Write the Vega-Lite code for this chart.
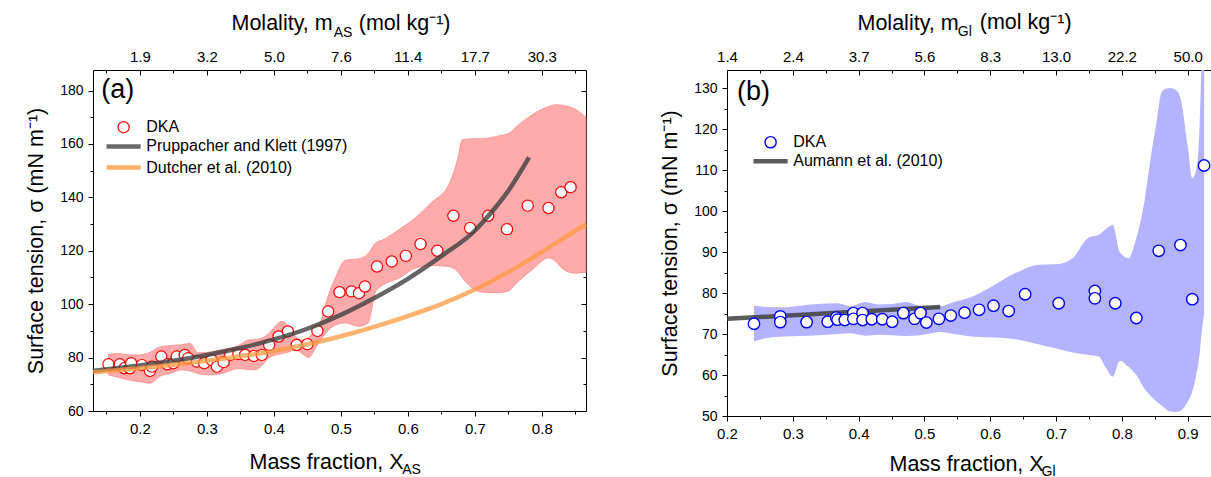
{
  "$schema": "https://vega.github.io/schema/vega-lite/v6.json",
  "padding": {"left": 25, "top": 12, "right": 0, "bottom": 0},
  "spacing": 64,
  "config": {
    "font": "Liberation Sans",
    "view": {"stroke": null},
    "axis": {
      "grid": false,
      "domainColor": "#000000",
      "tickColor": "#000000",
      "labelColor": "#000000",
      "titleColor": "#000000",
      "labelFont": "Liberation Sans",
      "titleFont": "Liberation Sans",
      "titleFontWeight": "normal",
      "labelFontSize": 15,
      "titleFontSize": 21.5,
      "labelOverlap": false,
      "labelFlush": false,
      "domainWidth": 1,
      "tickWidth": 1
    },
    "legend": {
      "orient": "none",
      "title": null,
      "padding": 0,
      "labelFont": "Liberation Sans",
      "labelFontSize": 16,
      "labelColor": "#000000",
      "labelLimit": 400,
      "symbolSize": 125,
      "symbolOffset": 11,
      "labelOffset": 14.7
    },
    "text": {"color": "#000000", "font": "Liberation Sans"}
  },
  "resolve": {
    "scale": {"color": "independent", "stroke": "independent"},
    "legend": {"color": "independent", "stroke": "independent"}
  },
  "datasets": {
    "a_pts": [
      {"x": 0.153, "y": 77.5, "series": "DKA"}, {"x": 0.170, "y": 77.5, "series": "DKA"},
      {"x": 0.177, "y": 76.0, "series": "DKA"}, {"x": 0.185, "y": 76.0, "series": "DKA"},
      {"x": 0.187, "y": 77.9, "series": "DKA"}, {"x": 0.203, "y": 77.2, "series": "DKA"},
      {"x": 0.215, "y": 75.0, "series": "DKA"}, {"x": 0.218, "y": 76.6, "series": "DKA"},
      {"x": 0.232, "y": 80.4, "series": "DKA"}, {"x": 0.241, "y": 77.5, "series": "DKA"},
      {"x": 0.250, "y": 77.9, "series": "DKA"}, {"x": 0.255, "y": 80.4, "series": "DKA"},
      {"x": 0.267, "y": 81.0, "series": "DKA"}, {"x": 0.272, "y": 79.8, "series": "DKA"},
      {"x": 0.285, "y": 78.5, "series": "DKA"}, {"x": 0.296, "y": 77.9, "series": "DKA"},
      {"x": 0.307, "y": 79.1, "series": "DKA"}, {"x": 0.315, "y": 76.6, "series": "DKA"},
      {"x": 0.325, "y": 78.3, "series": "DKA"}, {"x": 0.335, "y": 81.0, "series": "DKA"},
      {"x": 0.347, "y": 81.3, "series": "DKA"}, {"x": 0.357, "y": 81.0, "series": "DKA"},
      {"x": 0.370, "y": 80.6, "series": "DKA"}, {"x": 0.382, "y": 81.0, "series": "DKA"},
      {"x": 0.393, "y": 84.7, "series": "DKA"}, {"x": 0.407, "y": 87.9, "series": "DKA"},
      {"x": 0.421, "y": 89.8, "series": "DKA"}, {"x": 0.434, "y": 84.7, "series": "DKA"},
      {"x": 0.450, "y": 85.0, "series": "DKA"}, {"x": 0.465, "y": 90.0, "series": "DKA"},
      {"x": 0.481, "y": 97.3, "series": "DKA"}, {"x": 0.498, "y": 104.5, "series": "DKA"},
      {"x": 0.516, "y": 104.8, "series": "DKA"}, {"x": 0.527, "y": 104.1, "series": "DKA"},
      {"x": 0.536, "y": 106.6, "series": "DKA"}, {"x": 0.554, "y": 114.1, "series": "DKA"},
      {"x": 0.576, "y": 116.0, "series": "DKA"}, {"x": 0.597, "y": 118.1, "series": "DKA"},
      {"x": 0.619, "y": 122.5, "series": "DKA"}, {"x": 0.644, "y": 120.0, "series": "DKA"},
      {"x": 0.668, "y": 133.1, "series": "DKA"}, {"x": 0.693, "y": 128.5, "series": "DKA"},
      {"x": 0.720, "y": 133.1, "series": "DKA"}, {"x": 0.748, "y": 128.1, "series": "DKA"},
      {"x": 0.779, "y": 136.9, "series": "DKA"}, {"x": 0.810, "y": 136.0, "series": "DKA"},
      {"x": 0.829, "y": 141.9, "series": "DKA"}, {"x": 0.843, "y": 143.8, "series": "DKA"}
    ],
    "a_band": [
      {"x": 0.153, "lo": 73.5, "hi": 81.3}, {"x": 0.170, "lo": 72.5, "hi": 81.5},
      {"x": 0.185, "lo": 71.5, "hi": 81.0}, {"x": 0.200, "lo": 71.0, "hi": 81.0},
      {"x": 0.215, "lo": 70.4, "hi": 82.0}, {"x": 0.230, "lo": 73.0, "hi": 84.0},
      {"x": 0.245, "lo": 74.0, "hi": 84.5}, {"x": 0.262, "lo": 75.4, "hi": 84.8},
      {"x": 0.275, "lo": 75.0, "hi": 85.3}, {"x": 0.287, "lo": 74.0, "hi": 81.8},
      {"x": 0.302, "lo": 73.5, "hi": 82.0}, {"x": 0.322, "lo": 74.0, "hi": 83.0},
      {"x": 0.347, "lo": 75.9, "hi": 84.5}, {"x": 0.362, "lo": 75.5, "hi": 86.6},
      {"x": 0.372, "lo": 75.4, "hi": 86.8}, {"x": 0.382, "lo": 77.0, "hi": 87.2},
      {"x": 0.392, "lo": 79.8, "hi": 89.0}, {"x": 0.412, "lo": 81.5, "hi": 93.5},
      {"x": 0.421, "lo": 82.0, "hi": 92.0}, {"x": 0.432, "lo": 82.9, "hi": 88.0},
      {"x": 0.445, "lo": 81.0, "hi": 86.5}, {"x": 0.452, "lo": 80.0, "hi": 87.5},
      {"x": 0.462, "lo": 83.5, "hi": 91.0}, {"x": 0.472, "lo": 87.3, "hi": 95.0},
      {"x": 0.477, "lo": 89.0, "hi": 99.7}, {"x": 0.492, "lo": 92.2, "hi": 110.0},
      {"x": 0.507, "lo": 93.0, "hi": 116.5}, {"x": 0.527, "lo": 91.7, "hi": 117.0},
      {"x": 0.541, "lo": 93.0, "hi": 119.0}, {"x": 0.552, "lo": 104.8, "hi": 123.0},
      {"x": 0.562, "lo": 107.0, "hi": 124.0}, {"x": 0.587, "lo": 109.8, "hi": 128.0},
      {"x": 0.611, "lo": 113.5, "hi": 132.3}, {"x": 0.635, "lo": 114.5, "hi": 138.0},
      {"x": 0.661, "lo": 114.1, "hi": 144.7}, {"x": 0.675, "lo": 112.0, "hi": 155.0},
      {"x": 0.681, "lo": 110.0, "hi": 161.6}, {"x": 0.700, "lo": 105.4, "hi": 162.0},
      {"x": 0.711, "lo": 104.5, "hi": 162.0}, {"x": 0.735, "lo": 104.3, "hi": 163.0},
      {"x": 0.751, "lo": 105.0, "hi": 164.0}, {"x": 0.760, "lo": 107.3, "hi": 166.0},
      {"x": 0.786, "lo": 113.0, "hi": 171.0}, {"x": 0.810, "lo": 117.3, "hi": 174.0},
      {"x": 0.821, "lo": 116.0, "hi": 174.7}, {"x": 0.830, "lo": 113.5, "hi": 174.5},
      {"x": 0.850, "lo": 111.6, "hi": 173.0}, {"x": 0.866, "lo": 112.0, "hi": 170.0}
    ],
    "a_pk": [
      {"x": 0.13, "y": 75.0}, {"x": 0.20, "y": 77.0}, {"x": 0.25, "y": 78.8},
      {"x": 0.30, "y": 81.0}, {"x": 0.35, "y": 83.6}, {"x": 0.40, "y": 86.8},
      {"x": 0.45, "y": 90.8}, {"x": 0.50, "y": 96.0}, {"x": 0.55, "y": 102.3},
      {"x": 0.60, "y": 109.5}, {"x": 0.65, "y": 118.0}, {"x": 0.70, "y": 127.5},
      {"x": 0.72, "y": 133.0}, {"x": 0.75, "y": 142.5}, {"x": 0.781, "y": 155.0}
    ],
    "a_du": [
      {"x": 0.13, "y": 74.5}, {"x": 0.20, "y": 76.0}, {"x": 0.30, "y": 78.8},
      {"x": 0.40, "y": 82.5}, {"x": 0.45, "y": 85.0}, {"x": 0.50, "y": 88.0},
      {"x": 0.55, "y": 91.5}, {"x": 0.60, "y": 95.5}, {"x": 0.65, "y": 100.0},
      {"x": 0.70, "y": 105.5}, {"x": 0.75, "y": 112.0}, {"x": 0.80, "y": 119.5},
      {"x": 0.85, "y": 127.5}, {"x": 0.866, "y": 130.0}
    ],
    "b_pts": [
      {"x": 0.241, "y": 72.5, "series": "DKA"}, {"x": 0.281, "y": 74.3, "series": "DKA"},
      {"x": 0.281, "y": 72.9, "series": "DKA"}, {"x": 0.321, "y": 72.9, "series": "DKA"},
      {"x": 0.353, "y": 73.0, "series": "DKA"}, {"x": 0.366, "y": 74.0, "series": "DKA"},
      {"x": 0.368, "y": 73.5, "series": "DKA"}, {"x": 0.379, "y": 73.4, "series": "DKA"},
      {"x": 0.392, "y": 75.1, "series": "DKA"}, {"x": 0.392, "y": 73.7, "series": "DKA"},
      {"x": 0.406, "y": 75.1, "series": "DKA"}, {"x": 0.406, "y": 73.4, "series": "DKA"},
      {"x": 0.420, "y": 73.6, "series": "DKA"}, {"x": 0.436, "y": 73.6, "series": "DKA"},
      {"x": 0.451, "y": 73.0, "series": "DKA"}, {"x": 0.468, "y": 75.1, "series": "DKA"},
      {"x": 0.485, "y": 73.7, "series": "DKA"}, {"x": 0.494, "y": 75.1, "series": "DKA"},
      {"x": 0.503, "y": 72.8, "series": "DKA"}, {"x": 0.522, "y": 73.7, "series": "DKA"},
      {"x": 0.540, "y": 74.5, "series": "DKA"}, {"x": 0.561, "y": 75.2, "series": "DKA"},
      {"x": 0.583, "y": 75.9, "series": "DKA"}, {"x": 0.605, "y": 76.9, "series": "DKA"},
      {"x": 0.628, "y": 75.6, "series": "DKA"}, {"x": 0.653, "y": 79.7, "series": "DKA"},
      {"x": 0.704, "y": 77.5, "series": "DKA"}, {"x": 0.759, "y": 80.5, "series": "DKA"},
      {"x": 0.759, "y": 78.7, "series": "DKA"}, {"x": 0.790, "y": 77.5, "series": "DKA"},
      {"x": 0.822, "y": 73.9, "series": "DKA"}, {"x": 0.856, "y": 90.3, "series": "DKA"},
      {"x": 0.889, "y": 91.7, "series": "DKA"}, {"x": 0.907, "y": 78.5, "series": "DKA"},
      {"x": 0.925, "y": 111.1, "series": "DKA"}
    ],
    "b_band": [
      {"x": 0.241, "lo": 68.2, "hi": 76.9}, {"x": 0.260, "lo": 69.0, "hi": 76.6},
      {"x": 0.286, "lo": 69.4, "hi": 76.5}, {"x": 0.310, "lo": 69.5, "hi": 76.9},
      {"x": 0.337, "lo": 69.7, "hi": 77.3}, {"x": 0.368, "lo": 70.0, "hi": 77.5},
      {"x": 0.388, "lo": 70.2, "hi": 76.8}, {"x": 0.410, "lo": 69.6, "hi": 77.8},
      {"x": 0.430, "lo": 69.8, "hi": 77.2}, {"x": 0.451, "lo": 69.7, "hi": 77.3},
      {"x": 0.472, "lo": 69.5, "hi": 77.8}, {"x": 0.493, "lo": 69.7, "hi": 76.9},
      {"x": 0.524, "lo": 70.5, "hi": 76.8}, {"x": 0.545, "lo": 70.0, "hi": 77.8},
      {"x": 0.571, "lo": 69.4, "hi": 79.0}, {"x": 0.597, "lo": 69.2, "hi": 81.1},
      {"x": 0.622, "lo": 69.0, "hi": 83.5}, {"x": 0.647, "lo": 68.5, "hi": 85.5},
      {"x": 0.673, "lo": 67.5, "hi": 86.9}, {"x": 0.699, "lo": 66.5, "hi": 87.0},
      {"x": 0.725, "lo": 65.5, "hi": 88.5}, {"x": 0.749, "lo": 64.9, "hi": 93.5},
      {"x": 0.765, "lo": 64.5, "hi": 94.2}, {"x": 0.775, "lo": 62.0, "hi": 95.5},
      {"x": 0.786, "lo": 59.6, "hi": 96.6}, {"x": 0.797, "lo": 63.5, "hi": 90.0},
      {"x": 0.810, "lo": 62.0, "hi": 88.5}, {"x": 0.822, "lo": 60.0, "hi": 93.4},
      {"x": 0.835, "lo": 56.5, "hi": 103.0}, {"x": 0.843, "lo": 55.0, "hi": 112.1},
      {"x": 0.853, "lo": 53.5, "hi": 122.0}, {"x": 0.861, "lo": 52.5, "hi": 129.2},
      {"x": 0.873, "lo": 51.1, "hi": 130.0}, {"x": 0.882, "lo": 51.0, "hi": 129.5},
      {"x": 0.889, "lo": 51.3, "hi": 127.6}, {"x": 0.900, "lo": 53.5, "hi": 116.0},
      {"x": 0.907, "lo": 56.0, "hi": 108.0}, {"x": 0.913, "lo": 60.0, "hi": 110.0},
      {"x": 0.918, "lo": 65.0, "hi": 120.0}, {"x": 0.921, "lo": 70.0, "hi": 135.0},
      {"x": 0.925, "lo": 75.0, "hi": 145.0}
    ],
    "b_au": [
      {"x": 0.20, "y": 73.7, "series": "Aumann et al. (2010)"},
      {"x": 0.524, "y": 76.6, "series": "Aumann et al. (2010)"}
    ]
  },
  "hconcat": [
    {
      "width": 493,
      "height": 341,
      "layer": [
        {
          "data": {"name": "a_band"},
          "mark": {"type": "area", "interpolate": "monotone", "fill": "#ffabab", "stroke": "#ff8a8a", "strokeWidth": 0.8},
          "encoding": {
            "x": {
              "field": "x", "type": "quantitative",
              "scale": {"domain": [0.13, 0.866], "nice": false, "zero": false},
              "axis": {
                "orient": "bottom",
                "values": [0.15, 0.2, 0.25, 0.3, 0.35, 0.4, 0.45, 0.5, 0.55, 0.6, 0.65, 0.7, 0.75, 0.8, 0.85],
                "labelExpr": "abs(datum.value*10 - round(datum.value*10)) < 0.01 ? format(datum.value, '.1f') : ''",
                "tickSize": {"condition": {"test": "abs(datum.value*10 - round(datum.value*10)) > 0.01", "value": 3}, "value": 5},
                "labelPadding": 5.5,
                "title": "Mass fraction, X",
                "titleAlign": "left",
                "titleBaseline": "alphabetic",
                "titleX": 156,
                "titleY": 57
              }
            },
            "y": {
              "field": "lo", "type": "quantitative",
              "scale": {"domain": [60, 187.7], "nice": false, "zero": false},
              "axis": {
                "orient": "left",
                "values": [60, 70, 80, 90, 100, 110, 120, 130, 140, 150, 160, 170, 180],
                "labelExpr": "datum.value % 20 == 0 ? datum.label : ''",
                "tickSize": {"condition": {"test": "datum.value % 20 != 0", "value": 3}, "value": 5},
                "labelPadding": 5,
                "labelFontSize": 14,
                "title": "Surface tension, σ (mN m⁻¹)",
                "titlePadding": 12
              }
            },
            "y2": {"field": "hi"}
          }
        },
        {
          "data": {"values": [{}]},
          "mark": {"type": "text", "text": "(a)", "fontSize": 27, "align": "left", "baseline": "alphabetic"},
          "encoding": {
            "x": {"datum": 0.1424, "type": "quantitative", "scale": {"domain": [0.13, 0.866], "nice": false, "zero": false}, "axis": null},
            "y": {"datum": 177.2, "type": "quantitative", "scale": {"domain": [60, 187.7], "nice": false, "zero": false}, "axis": null}
          }
        },
        {
          "data": {"values": [{}]},
          "mark": {"type": "text", "text": "AS", "fontSize": 14, "align": "left", "baseline": "alphabetic"},
          "encoding": {
            "x": {"datum": 0.5915, "type": "quantitative", "scale": {"domain": [0.13, 0.866], "nice": false, "zero": false}, "axis": null},
            "y": {"datum": 36.3, "type": "quantitative", "scale": {"domain": [60, 187.7], "nice": false, "zero": false}, "axis": null}
          }
        },
        {
          "data": {"values": [{}]},
          "mark": {"type": "text", "text": "AS", "fontSize": 14, "align": "left", "baseline": "alphabetic"},
          "encoding": {
            "x": {"datum": 0.4894, "type": "quantitative", "scale": {"domain": [0.13, 0.866], "nice": false, "zero": false}, "axis": null},
            "y": {"datum": 200.2, "type": "quantitative", "scale": {"domain": [60, 187.7], "nice": false, "zero": false}, "axis": null}
          }
        },
        {
          "data": {"values": [{}]},
          "mark": {"type": "text", "text": "(mol kg⁻¹)", "fontSize": 21.5, "align": "left", "baseline": "alphabetic"},
          "encoding": {
            "x": {"datum": 0.5267, "type": "quantitative", "scale": {"domain": [0.13, 0.866], "nice": false, "zero": false}, "axis": null},
            "y": {"datum": 202.75, "type": "quantitative", "scale": {"domain": [60, 187.7], "nice": false, "zero": false}, "axis": null}
          }
        },
        {
          "data": {"name": "a_pts"},
          "mark": {"type": "point", "shape": "circle", "filled": false, "fill": "#ffffff", "size": 125, "strokeWidth": 1.2, "opacity": 1},
          "encoding": {
            "x": {
              "field": "x", "type": "quantitative",
              "scale": {"domain": [0.13, 0.866], "nice": false, "zero": false},
              "axis": {
                "orient": "top",
                "values": [0.15, 0.2, 0.25, 0.3, 0.35, 0.4, 0.45, 0.5, 0.55, 0.6, 0.65, 0.7, 0.75, 0.8, 0.85],
                "labelExpr": "abs(datum.value*10 - round(datum.value*10)) < 0.01 ? ['1.9','3.2','5.0','7.6','11.4','17.7','30.3'][round(datum.value*10)-2] : ''",
                "tickSize": {"condition": {"test": "abs(datum.value*10 - round(datum.value*10)) > 0.01", "value": -3}, "value": -5},
                "labelPadding": 11,
                "title": "Molality, m",
                "titleAlign": "left",
                "titleBaseline": "alphabetic",
                "titleX": 138,
                "titleY": -40.3
              }
            },
            "y": {
              "field": "y", "type": "quantitative",
              "scale": {"domain": [60, 187.7], "nice": false, "zero": false},
              "axis": {
                "orient": "right",
                "values": [60, 70, 80, 90, 100, 110, 120, 130, 140, 150, 160, 170, 180],
                "labels": false,
                "tickSize": {"condition": {"test": "datum.value % 20 != 0", "value": -3}, "value": -5},
                "title": null
              }
            },
            "color": {
              "field": "series", "type": "nominal",
              "scale": {"domain": ["DKA"], "range": ["#ff0000"]},
              "legend": {
                "legendX": 11.6, "legendY": 49.2,
                "symbolType": "circle", "symbolStrokeWidth": 1.2, "symbolFillColor": "#ffffff"
              }
            }
          }
        },
        {
          "data": {"name": "a_pk"},
          "transform": [{"calculate": "'Pruppacher and Klett (1997)'", "as": "series"}],
          "mark": {"type": "line", "interpolate": "monotone", "strokeWidth": 4.5, "opacity": 0.8, "strokeCap": "butt"},
          "encoding": {
            "x": {"field": "x", "type": "quantitative", "scale": {"domain": [0.13, 0.866], "nice": false, "zero": false}, "axis": null},
            "y": {"field": "y", "type": "quantitative", "scale": {"domain": [60, 187.7], "nice": false, "zero": false}, "axis": null},
            "stroke": {
              "field": "series", "type": "nominal",
              "scale": {"domain": ["Pruppacher and Klett (1997)", "Dutcher et al. (2010)"], "range": ["#404040", "#ff9a40"]},
              "legend": {
                "legendX": 11.6, "legendY": 68.4, "rowPadding": 3.2,
                "symbolType": "M-3.05,0H3.05", "symbolStrokeWidth": 4.5, "symbolOpacity": 0.78
              }
            }
          }
        },
        {
          "data": {"name": "a_du"},
          "transform": [{"calculate": "'Dutcher et al. (2010)'", "as": "series"}],
          "mark": {"type": "line", "interpolate": "monotone", "strokeWidth": 4.5, "opacity": 0.75, "strokeCap": "butt"},
          "encoding": {
            "x": {"field": "x", "type": "quantitative", "scale": {"domain": [0.13, 0.866], "nice": false, "zero": false}, "axis": null},
            "y": {"field": "y", "type": "quantitative", "scale": {"domain": [60, 187.7], "nice": false, "zero": false}, "axis": null},
            "stroke": {
              "field": "series", "type": "nominal",
              "scale": {"domain": ["Pruppacher and Klett (1997)", "Dutcher et al. (2010)"], "range": ["#404040", "#ff9a40"]},
              "legend": {
                "legendX": 11.6, "legendY": 68.4, "rowPadding": 3.2,
                "symbolType": "M-3.05,0H3.05", "symbolStrokeWidth": 4.5, "symbolOpacity": 0.78
              }
            }
          }
        }
      ],
      "resolve": {"axis": {"x": "independent", "y": "independent"}}
    },
    {
      "width": 487,
      "height": 346,
      "layer": [
        {
          "data": {"name": "b_band"},
          "mark": {"type": "area", "interpolate": "monotone", "fill": "#b3b3ff", "clip": true},
          "encoding": {
            "x": {
              "field": "x", "type": "quantitative",
              "scale": {"domain": [0.2, 0.94], "nice": false, "zero": false},
              "axis": {
                "orient": "bottom",
                "values": [0.2, 0.25, 0.3, 0.35, 0.4, 0.45, 0.5, 0.55, 0.6, 0.65, 0.7, 0.75, 0.8, 0.85, 0.9],
                "labelExpr": "abs(datum.value*10 - round(datum.value*10)) < 0.01 ? format(datum.value, '.1f') : ''",
                "tickSize": {"condition": {"test": "abs(datum.value*10 - round(datum.value*10)) > 0.01", "value": 3}, "value": 5},
                "labelPadding": 5.5,
                "title": "Mass fraction, X",
                "titleAlign": "left",
                "titleBaseline": "alphabetic",
                "titleX": 162,
                "titleY": 54
              }
            },
            "y": {
              "field": "lo", "type": "quantitative",
              "scale": {"domain": [50, 134.4], "nice": false, "zero": false},
              "axis": {
                "orient": "left",
                "values": [50, 55, 60, 65, 70, 75, 80, 85, 90, 95, 100, 105, 110, 115, 120, 125, 130],
                "labelExpr": "datum.value % 10 == 0 ? datum.label : ''",
                "tickSize": {"condition": {"test": "datum.value % 10 != 0", "value": 3}, "value": 5},
                "labelPadding": 5,
                "labelFontSize": 14,
                "title": "Surface tension, σ (mN m⁻¹)",
                "titlePadding": 12
              }
            },
            "y2": {"field": "hi"}
          }
        },
        {
          "data": {"name": "b_au"},
          "mark": {"type": "line", "strokeWidth": 4.5, "opacity": 0.85, "strokeCap": "butt"},
          "encoding": {
            "x": {"field": "x", "type": "quantitative", "scale": {"domain": [0.2, 0.94], "nice": false, "zero": false}, "axis": null},
            "y": {"field": "y", "type": "quantitative", "scale": {"domain": [50, 134.4], "nice": false, "zero": false}, "axis": null},
            "stroke": {
              "field": "series", "type": "nominal",
              "scale": {"domain": ["Aumann et al. (2010)"], "range": ["#404040"]},
              "legend": {
                "legendX": 24.6, "legendY": 83.2,
                "symbolType": "M-3.05,0H3.05", "symbolStrokeWidth": 4.5, "symbolOpacity": 0.85
              }
            }
          }
        },
        {
          "data": {"values": [{}]},
          "mark": {"type": "text", "text": "(b)", "fontSize": 27, "align": "left", "baseline": "alphabetic"},
          "encoding": {
            "x": {"datum": 0.2152, "type": "quantitative", "scale": {"domain": [0.2, 0.94], "nice": false, "zero": false}, "axis": null},
            "y": {"datum": 127.1, "type": "quantitative", "scale": {"domain": [50, 134.4], "nice": false, "zero": false}, "axis": null}
          }
        },
        {
          "data": {"values": [{}]},
          "mark": {"type": "text", "text": "Gl", "fontSize": 14, "align": "left", "baseline": "alphabetic"},
          "encoding": {
            "x": {"datum": 0.5507, "type": "quantitative", "scale": {"domain": [0.2, 0.94], "nice": false, "zero": false}, "axis": null},
            "y": {"datum": 142.6, "type": "quantitative", "scale": {"domain": [50, 134.4], "nice": false, "zero": false}, "axis": null}
          }
        },
        {
          "data": {"values": [{}]},
          "mark": {"type": "text", "text": "(mol kg⁻¹)", "fontSize": 21.5, "align": "left", "baseline": "alphabetic"},
          "encoding": {
            "x": {"datum": 0.5841, "type": "quantitative", "scale": {"domain": [0.2, 0.94], "nice": false, "zero": false}, "axis": null},
            "y": {"datum": 144.3, "type": "quantitative", "scale": {"domain": [50, 134.4], "nice": false, "zero": false}, "axis": null}
          }
        },
        {
          "data": {"values": [{}]},
          "mark": {"type": "text", "text": "Gl", "fontSize": 14, "align": "left", "baseline": "alphabetic"},
          "encoding": {
            "x": {"datum": 0.678, "type": "quantitative", "scale": {"domain": [0.2, 0.94], "nice": false, "zero": false}, "axis": null},
            "y": {"datum": 35.3, "type": "quantitative", "scale": {"domain": [50, 134.4], "nice": false, "zero": false}, "axis": null}
          }
        },
        {
          "data": {"name": "b_pts"},
          "mark": {"type": "point", "shape": "circle", "filled": false, "fill": "#ffffff", "size": 130, "strokeWidth": 1.4, "opacity": 1},
          "encoding": {
            "x": {
              "field": "x", "type": "quantitative",
              "scale": {"domain": [0.2, 0.94], "nice": false, "zero": false},
              "axis": {
                "orient": "top",
                "values": [0.2, 0.25, 0.3, 0.35, 0.4, 0.45, 0.5, 0.55, 0.6, 0.65, 0.7, 0.75, 0.8, 0.85, 0.9],
                "labelExpr": "abs(datum.value*10 - round(datum.value*10)) < 0.01 ? ['1.4','2.4','3.7','5.6','8.3','13.0','22.2','50.0'][round(datum.value*10)-2] : ''",
                "tickSize": {"condition": {"test": "abs(datum.value*10 - round(datum.value*10)) > 0.01", "value": -3}, "value": -5},
                "labelPadding": 11,
                "title": "Molality, m",
                "titleAlign": "left",
                "titleBaseline": "alphabetic",
                "titleX": 130,
                "titleY": -40.3
              }
            },
            "y": {"field": "y", "type": "quantitative", "scale": {"domain": [50, 134.4], "nice": false, "zero": false}, "axis": null},
            "color": {
              "field": "series", "type": "nominal",
              "scale": {"domain": ["DKA"], "range": ["#0000ff"]},
              "legend": {
                "legendX": 24.6, "legendY": 64.2,
                "symbolType": "circle", "symbolStrokeWidth": 1.4, "symbolFillColor": "#ffffff"
              }
            }
          }
        }
      ],
      "resolve": {"axis": {"x": "independent", "y": "independent"}}
    }
  ]
}
